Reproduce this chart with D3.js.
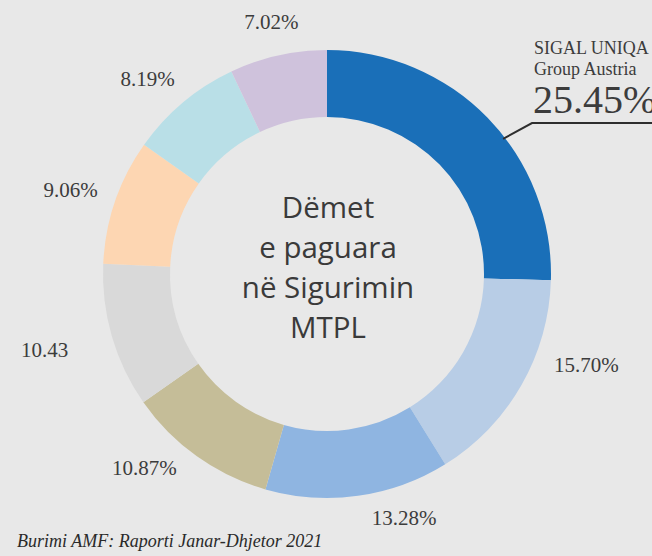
<!DOCTYPE html>
<html>
<head>
<meta charset="utf-8">
<script src="https://cdn.jsdelivr.net/npm/d3@7"></script>
<style>
  html, body { margin: 0; padding: 0; background: #e8e8e8; }
  #chart { width: 652px; height: 556px; overflow: hidden; }
</style>
</head>
<body>
<div id="chart"></div>
<script>
// Data: share of MTPL claims paid, clockwise from 12 o'clock
var companies = ["SIGAL UNIQA Group Austria", "C2", "C3", "C4", "C5", "C6", "C7", "C8"];
var shares = [25.45, 15.70, 13.28, 10.87, 10.43, 9.06, 8.19, 7.02];
var labels = ["25.45%", "15.70%", "13.28%", "10.87%", "10.43", "9.06%", "8.19%", "7.02%"];
var colors = ["#1a6fb8", "#b8cde6", "#8fb5e1", "#c5bd98", "#d9d9d9", "#fdd6b2", "#b9dfe7", "#cfc2dc"];

var centerLines = ["Dëmet", "e paguara", "në Sigurimin", "MTPL"];

var width = 652, height = 556;
var cx = 327, cy = 274;
var outerR = 224, innerR = 157, labelR = 268;

// small hand nudges so labels sit where the original put them
var nudge = [[0, 0], [27, -43], [40, -22], [-27, -24], [-25, 1], [-3, 3], [-7, 10], [3, 9]];

var svg = d3.select("#chart").append("svg")
    .attr("width", width)
    .attr("height", height);

svg.append("rect")
    .attr("width", width)
    .attr("height", height)
    .attr("fill", "#e8e8e8");

var g = svg.append("g")
    .attr("transform", "translate(" + cx + "," + cy + ")");

var pie = d3.pie().sort(null).value(function(d) { return d; });
var arcs = pie(shares);

var arc = d3.arc().innerRadius(innerR).outerRadius(outerR);
var arcLabel = d3.arc().innerRadius(labelR).outerRadius(labelR);

// Slices
g.selectAll(".slice")
    .data(arcs)
  .enter().append("path")
    .attr("class", "slice")
    .attr("d", arc)
    .attr("fill", function(d, i) { return colors[i]; });

// Percentage labels (first slice gets its own callout)
g.selectAll(".lbl")
    .data(arcs.slice(1))
  .enter().append("text")
    .attr("class", "lbl")
    .attr("x", function(d, i) { return arcLabel.centroid(d)[0] + nudge[i + 1][0]; })
    .attr("y", function(d, i) { return arcLabel.centroid(d)[1] + nudge[i + 1][1]; })
    .attr("dy", "0.35em")
    .attr("text-anchor", "middle")
    .style("font-family", "'Liberation Serif', 'Times New Roman', serif")
    .style("font-size", "21px")
    .style("fill", "#3c3c3c")
    .text(function(d, i) { return labels[i + 1]; });

// Callout for the leader
var a0 = 52.5 * Math.PI / 180;
var p0 = [Math.sin(a0) * (outerR - 2), -Math.cos(a0) * (outerR - 2)];
var p1 = [205, -151];
g.append("path")
    .attr("d", "M" + p0 + "L" + p1 + "L" + (width - cx) + "," + p1[1])
    .attr("fill", "none")
    .attr("stroke", "#2e2e2e")
    .attr("stroke-width", 2);

var nameParts = ["SIGAL UNIQA", "Group Austria"];
g.selectAll(".name")
    .data(nameParts)
  .enter().append("text")
    .attr("class", "name")
    .attr("x", 207)
    .attr("y", function(d, i) { return -220 + i * 21; })
    .style("font-family", "'Liberation Serif', 'Times New Roman', serif")
    .style("font-size", "18px")
    .style("fill", "#3c3c3c")
    .text(function(d) { return d; });

g.append("text")
    .attr("x", 206)
    .attr("y", -161)
    .style("font-family", "'Liberation Serif', 'Times New Roman', serif")
    .style("font-size", "40px")
    .style("fill", "#3c3c3c")
    .text(labels[0]);

// Centre title
g.selectAll(".center")
    .data(centerLines)
  .enter().append("text")
    .attr("class", "center")
    .attr("x", 1)
    .attr("y", function(d, i) { return -56 + i * 40; })
    .attr("text-anchor", "middle")
    .style("font-family", "'Open Sans', sans-serif")
    .style("font-size", "29.5px")
    .style("fill", "#3a3a3a")
    .text(function(d) { return d; });

// Source
svg.append("text")
    .attr("x", 17)
    .attr("y", 547)
    .style("font-family", "'Liberation Serif', 'Times New Roman', serif")
    .style("font-style", "italic")
    .style("font-size", "18px")
    .style("fill", "#2a2a2a")
    .text("Burimi AMF: Raporti Janar-Dhjetor 2021");
</script>
</body>
</html>
